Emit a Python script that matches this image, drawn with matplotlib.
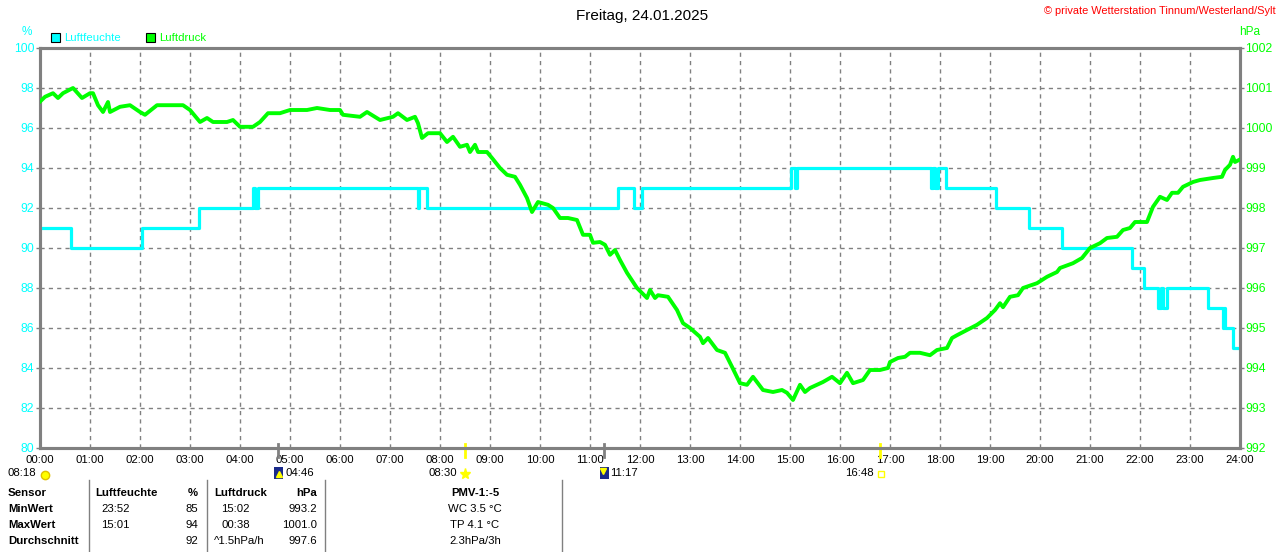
import matplotlib
matplotlib.use("Agg")
import matplotlib.pyplot as plt
import matplotlib.transforms as mtransforms
from matplotlib.patches import Rectangle

plt.rcParams["font.family"] = ["Liberation Sans", "DejaVu Sans"]

CYAN = "#00FFFF"
GREEN = "#00FF00"
GRAY = "#808080"

# Luftfeuchte (%), Stufenverlauf: Zeitpunkt (h) -> neuer Wert
hum_t = [0.00, 0.62, 2.04, 3.17, 4.27, 4.31, 4.36, 7.55, 7.58, 7.73,
         11.56, 11.87, 12.03, 15.02, 15.10, 15.14, 17.82, 17.86, 17.90, 17.95,
         18.12, 19.12, 19.78, 20.44, 21.84, 22.08, 22.36, 22.42, 22.46, 22.54,
         23.36, 23.66, 23.68, 23.70, 23.85, 23.98]
hum_v = [91, 90, 91, 92, 93, 92, 93, 92, 93, 92,
         93, 92, 93, 94, 93, 94, 93, 94, 93, 94,
         93, 92, 91, 90, 89, 88, 87, 88, 87, 88,
         87, 86, 87, 86, 85, 85]

# Luftdruck (hPa)
pres_t = [0.00, 0.10, 0.26, 0.36, 0.46, 0.66, 0.84, 1.00, 1.06, 1.16, 1.26, 1.36,
          1.40, 1.60, 1.80, 2.00, 2.10, 2.34, 2.66, 2.86, 3.00, 3.20, 3.34, 3.46,
          3.74, 3.86, 4.00, 4.26, 4.40, 4.56, 4.80, 5.00, 5.34, 5.54, 5.80, 6.00,
          6.06, 6.40, 6.54, 6.80, 7.06, 7.16, 7.34, 7.50, 7.56, 7.64, 7.76, 8.00,
          8.14, 8.26, 8.40, 8.54, 8.60, 8.70, 8.76, 8.94, 9.04, 9.20, 9.34, 9.50,
          9.60, 9.74, 9.84, 9.96, 10.16, 10.26, 10.40, 10.56, 10.74, 10.86, 11.00,
          11.06, 11.20, 11.30, 11.40, 11.50, 11.60, 11.74, 11.94, 12.14, 12.20,
          12.30, 12.36, 12.56, 12.74, 12.86, 13.00, 13.20, 13.26, 13.36, 13.54,
          13.70, 13.84, 14.00, 14.14, 14.26, 14.46, 14.66, 14.84, 14.94, 15.06,
          15.20, 15.30, 15.40, 15.54, 15.66, 15.84, 16.00, 16.14, 16.26, 16.46,
          16.60, 16.80, 16.96, 17.00, 17.16, 17.30, 17.40, 17.60, 17.80, 17.94,
          18.14, 18.24, 18.34, 18.54, 18.74, 18.94, 19.10, 19.20, 19.26, 19.40,
          19.56, 19.66, 19.94, 20.14, 20.34, 20.40, 20.66, 20.84, 21.00, 21.20,
          21.34, 21.54, 21.66, 21.80, 21.90, 22.14, 22.26, 22.40, 22.54, 22.64,
          22.76, 22.86, 23.06, 23.20, 23.46, 23.64, 23.70, 23.80, 23.86, 23.90,
          23.98]
pres_v = [1000.66, 1000.78, 1000.87, 1000.75, 1000.87, 1001.00, 1000.75, 1000.87,
          1000.87, 1000.57, 1000.40, 1000.65, 1000.40, 1000.53, 1000.57, 1000.40,
          1000.33, 1000.57, 1000.57, 1000.57, 1000.45, 1000.15, 1000.25, 1000.15,
          1000.15, 1000.20, 1000.03, 1000.03, 1000.15, 1000.37, 1000.37, 1000.45,
          1000.45, 1000.50, 1000.45, 1000.45, 1000.33, 1000.28, 1000.40, 1000.20,
          1000.28, 1000.37, 1000.20, 1000.28, 1000.12, 999.75, 999.87, 999.87,
          999.65, 999.78, 999.53, 999.58, 999.40, 999.58, 999.40, 999.40, 999.25,
          999.00, 998.83, 998.78, 998.58, 998.25, 997.90, 998.15, 998.08, 998.00,
          997.75, 997.75, 997.70, 997.33, 997.33, 997.13, 997.15, 997.08, 996.83,
          996.95, 996.70, 996.38, 996.00, 995.75, 995.95, 995.75, 995.82, 995.78,
          995.45, 995.12, 995.00, 994.78, 994.62, 994.75, 994.45, 994.38, 994.03,
          993.62, 993.58, 993.78, 993.45, 993.40, 993.45, 993.38, 993.20, 993.58,
          993.40, 993.50, 993.58, 993.65, 993.78, 993.62, 993.88, 993.62, 993.70,
          993.95, 993.95, 994.00, 994.15, 994.25, 994.28, 994.38, 994.38, 994.32,
          994.45, 994.50, 994.75, 994.82, 994.95, 995.08, 995.25, 995.45, 995.62,
          995.52, 995.78, 995.82, 996.00, 996.12, 996.28, 996.40, 996.50, 996.62,
          996.75, 997.00, 997.12, 997.25, 997.28, 997.45, 997.50, 997.65, 997.65,
          998.03, 998.28, 998.20, 998.38, 998.38, 998.53, 998.65, 998.70, 998.75,
          998.78, 998.95, 999.08, 999.28, 999.15, 999.20]

hour_labels = [f"{h:02d}:00" for h in range(25)]
hum_ticks = list(range(80, 101, 2))
pres_ticks = list(range(992, 1003))

# Astro-Ereignisse unter der Achse (h): Mondaufgang, Sonnenaufgang, Monduntergang, Sonnenuntergang
event_t = [4.767, 8.5, 11.283, 16.8]
event_c = [GRAY, "#FFFF00", GRAY, "#FFFF00"]

W, H = 1280, 552
fig = plt.figure(figsize=(W / 100, H / 100), dpi=100)
ax = fig.add_axes([40 / W, 1 - 448 / H, 1200 / W, 400 / H])
ax2 = ax.twinx()

ax.step(hum_t, hum_v, where="post", color=CYAN, lw=2.3, zorder=3)
ax2.plot(pres_t, pres_v, color=GREEN, lw=2.8, zorder=4)

ax.set_xlim(0, 24)
ax.set_ylim(80, 100)
ax2.set_ylim(992, 1002)
ax.set_xticks(range(25))
ax.set_xticklabels(hour_labels, fontsize=8.2)
ax.set_yticks(hum_ticks)
ax.set_yticklabels([str(v) for v in hum_ticks], fontsize=8.8, color=CYAN)
ax2.set_yticks(pres_ticks)
ax2.set_yticklabels([str(v) for v in pres_ticks], fontsize=8.8, color=GREEN)
ax.tick_params(axis="x", length=0, pad=5)
ax.tick_params(axis="y", length=3, width=1, color=GRAY, pad=1)
ax2.tick_params(axis="y", length=3, width=1, color=GRAY, pad=1)
ax.grid(True, color=GRAY, lw=1, ls=(0, (3, 3)))
for a in (ax, ax2):
    for s in a.spines.values():
        s.set_color(GRAY)
        s.set_linewidth(2.2)
ax2.set_zorder(ax.get_zorder() + 1)
ax2.patch.set_visible(False)

trans = mtransforms.blended_transform_factory(ax.transData, ax.transAxes)
for t, c in zip(event_t, event_c):
    ax.plot([t, t], [-0.0225, 0.01], color=c, lw=2, transform=trans, clip_on=False, zorder=6)

# Overlay für Texte in Pixelkoordinaten
ov = fig.add_axes([0, 0, 1, 1])
ov.set_xlim(0, W)
ov.set_ylim(H, 0)
ov.axis("off")

ov.text(642, 16, "Freitag, 24.01.2025", ha="center", va="center", fontsize=11)
ov.text(1276, 11, "© private Wetterstation Tinnum/Westerland/Sylt", ha="right",
        va="center", fontsize=7.9, color="red")
ov.text(27, 32, "%", ha="center", va="center", fontsize=8.5, color=CYAN)
ov.text(1250, 32, "hPa", ha="center", va="center", fontsize=8.5, color=GREEN)

ov.add_patch(Rectangle((51, 33), 9, 9, facecolor=CYAN, edgecolor="black", lw=0.8))
ov.text(64, 38, "Luftfeuchte", va="center", fontsize=8.2, color=CYAN)
ov.add_patch(Rectangle((146, 33), 9, 9, facecolor=GREEN, edgecolor="black", lw=0.8))
ov.text(159, 38, "Luftdruck", va="center", fontsize=8.2, color=GREEN)

# Astro-Beschriftungen
ov.text(8, 473, "08:18", va="center", fontsize=8.2)
ov.plot([45], [475], marker="o", ms=6, color="#FFFF00", mec="#E0C000")
ov.add_patch(Rectangle((274, 467), 9, 12, facecolor="#1A2A8A", edgecolor="none"))
ov.plot([279], [474], marker="^", ms=4, color="#FFFF00")
ov.text(285, 473, "04:46", va="center", fontsize=8.2)
ov.text(457, 473, "08:30", va="center", ha="right", fontsize=8.2)
ov.plot([465], [474], marker="*", ms=8, color="#FFFF00")
ov.add_patch(Rectangle((600, 467), 9, 12, facecolor="#1A2A8A", edgecolor="none"))
ov.plot([603], [471], marker="v", ms=4, color="#FFFF00")
ov.text(610, 473, "11:17", va="center", fontsize=8.2)
ov.text(874, 473, "16:48", va="center", ha="right", fontsize=8.2)
ov.plot([881], [474], marker="s", ms=4, mfc="none", mec="#FFFF00", mew=1)

# Tabelle
for x in (89, 207, 325, 562):
    ov.plot([x, x], [480, 552], color=GRAY, lw=1)

rows_y = [493, 509, 525, 541]
ov.text(8, rows_y[0], "Sensor", va="center", fontsize=8.2, weight="bold")
ov.text(95, rows_y[0], "Luftfeuchte", va="center", fontsize=8.2, weight="bold")
ov.text(198, rows_y[0], "%", va="center", ha="right", fontsize=8.2, weight="bold")
ov.text(214, rows_y[0], "Luftdruck", va="center", fontsize=8.2, weight="bold")
ov.text(317, rows_y[0], "hPa", va="center", ha="right", fontsize=8.2, weight="bold")
ov.text(475, rows_y[0], "PMV-1:-5", va="center", ha="center", fontsize=8.2, weight="bold")

row_names = ["MinWert", "MaxWert", "Durchschnitt"]
hum_time = ["23:52", "15:01", ""]
hum_val = ["85", "94", "92"]
pres_time = ["15:02", "00:38", "^1.5hPa/h"]
pres_val = ["993.2", "1001.0", "997.6"]
pmv = ["WC 3.5 °C", "TP 4.1 °C", "2.3hPa/3h"]
for i, y in enumerate(rows_y[1:]):
    ov.text(8, y, row_names[i], va="center", fontsize=8.2, weight="bold")
    ov.text(101, y, hum_time[i], va="center", fontsize=8.2)
    ov.text(198, y, hum_val[i], va="center", ha="right", fontsize=8.2)
    ov.text(214 if i == 2 else 221, y, pres_time[i], va="center", fontsize=8.2)
    ov.text(317, y, pres_val[i], va="center", ha="right", fontsize=8.2)
    ov.text(475, y, pmv[i], va="center", ha="center", fontsize=8.2)

fig.savefig("out.png", dpi=100)
